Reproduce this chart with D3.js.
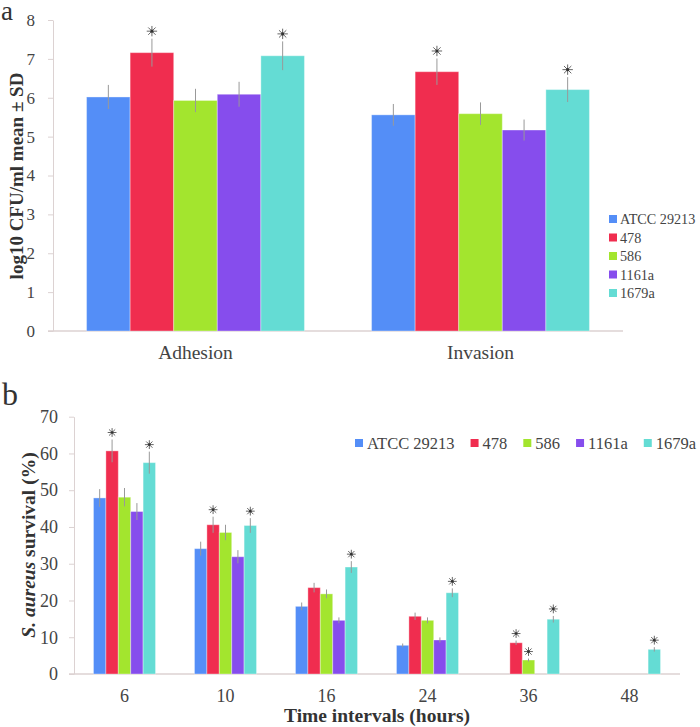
<!DOCTYPE html>
<html><head><meta charset="utf-8">
<script src="https://cdn.jsdelivr.net/npm/d3@7"></script>
<style>
html,body{margin:0;padding:0;background:#fff;}
svg{display:block;font-family:"Liberation Serif","Times New Roman",serif;}
</style></head>
<body>
<svg id="c" width="700" height="727"></svg>
<script>
// ---------- data ----------
const strains = ["ATCC 29213","478","586","1161a","1679a"];
const colors = ["#548ef7","#f02d4f","#a3e52e","#864ded","#64dcd4"];

const groupsA = ["Adhesion","Invasion"];
const adhesionMean = [6.02,7.16,5.93,6.09,7.08];
const adhesionSD   = [0.31,0.36,0.30,0.32,0.37];
const adhesionSig  = [0,1,0,0,1];
const invasionMean = [5.56,6.67,5.59,5.17,6.21];
const invasionSD   = [0.28,0.34,0.29,0.27,0.32];
const invasionSig  = [0,1,0,0,1];
const yTicksA = [0,1,2,3,4,5,6,7,8];

const times = ["6","10","16","24","36","48"];
const survATCC  = [47.9,34.1,18.4,7.8,null,null];
const surv478   = [60.7,40.6,23.5,15.7,8.5,null];
const surv586   = [48.1,38.5,21.8,14.6,3.8,null];
const surv1161a = [44.2,31.9,14.6,9.25,null,null];
const surv1679a = [57.5,40.4,29.1,22.1,14.9,6.7];
const sdATCC  = [2.4,1.9,1.05,0.5,null,null];
const sd478   = [3.1,2.2,1.3,1.0,0.6,null];
const sd586   = [2.5,2.1,1.2,0.8,0.4,null];
const sd1161a = [2.3,1.8,0.8,0.7,null,null];
const sd1679a = [3.0,2.0,1.6,1.2,0.9,0.6];
const sigATCC  = [0,0,0,0,0,0];
const sig478   = [1,1,0,0,1,0];
const sig586   = [0,0,0,0,1,0];
const sig1161a = [0,0,0,0,0,0];
const sig1679a = [1,1,1,1,1,1];
const yTicksB = [0,10,20,30,40,50,60,70];

// ---------- helpers ----------
const svg = d3.select("#c");
const axisColor = "#dcd2d2";
const textColor = "#444";
const serif = "Liberation Serif";

function asterisk(g, cx, cy, r){
  const p = d3.path();
  for (let k=0;k<4;k++){
    const a = k*Math.PI/4;
    p.moveTo(cx - r*Math.cos(a), cy - r*Math.sin(a));
    p.lineTo(cx + r*Math.cos(a), cy + r*Math.sin(a));
  }
  g.append("path").attr("d", p.toString()).attr("stroke","#666").attr("stroke-width",1).attr("fill","none");
  g.append("circle").attr("cx",cx).attr("cy",cy).attr("r",r*0.3).attr("fill","#333");
}

// ---------- chart a ----------
{
  const left=53, right=623, top=20, bottom=331;
  const y = d3.scaleLinear().domain([0,8]).range([bottom, top]);
  const x0 = d3.scaleBand().domain(groupsA).range([left,right]).padding(0);
  const x1 = d3.scaleBand().domain(strains).range([0,x0.bandwidth()]).paddingInner(0).paddingOuter(0.77);
  const rows = [
    {g:"Adhesion", m:adhesionMean, s:adhesionSD, sig:adhesionSig},
    {g:"Invasion", m:invasionMean, s:invasionSD, sig:invasionSig}
  ];
  const g = svg.append("g");
  const ya = g.append("g").attr("transform",`translate(${left},0)`)
    .call(d3.axisLeft(y).tickValues(yTicksA).tickSize(5).tickSizeOuter(0).tickPadding(13));
  ya.attr("font-family", serif);
  ya.select(".domain").attr("stroke",axisColor);
  ya.selectAll(".tick line").attr("stroke",axisColor);
  ya.selectAll(".tick text").attr("fill",textColor).style("font-size","17px").style("font-family",serif);
  g.append("line").attr("x1",left-5).attr("x2",right).attr("y1",bottom).attr("y2",bottom).attr("stroke",axisColor).attr("stroke-width",1.5);

  rows.forEach(r=>{
    const gg = g.append("g").attr("transform",`translate(${x0(r.g)},0)`);
    strains.forEach((st,i)=>{
      gg.append("rect").attr("x",x1(st)).attr("width",x1.bandwidth())
        .attr("y",y(r.m[i])).attr("height",y(0)-y(r.m[i]))
        .attr("fill",colors[i]).attr("stroke","rgba(255,255,255,0.35)").attr("stroke-width",1);
      const cx = x1(st)+x1.bandwidth()/2;
      gg.append("line").attr("x1",cx).attr("x2",cx)
        .attr("y1",y(r.m[i]+r.s[i])).attr("y2",y(r.m[i]-r.s[i]))
        .attr("stroke","#999").attr("stroke-width",1);
      if (r.sig[i]) asterisk(gg, cx, y(r.m[i]+r.s[i])-7.5, 5.2);
    });
    g.append("text").attr("x",x0(r.g)+x0.bandwidth()/2).attr("y",359)
      .attr("text-anchor","middle").attr("fill",textColor).style("font-size","19.5px").text(r.g);
  });

  g.append("text").attr("transform",`translate(23,176) rotate(-90)`).attr("text-anchor","middle")
    .attr("fill","#333").style("font-size","19px").style("font-weight","bold").text("log10 CFU/ml mean ± SD");
  g.append("text").attr("x",1).attr("y",20).attr("fill","#333").style("font-size","27px").text("a");

  const lg = g.append("g");
  strains.forEach((st,i)=>{
    const cy = 219 + i*18.5;
    lg.append("rect").attr("x",609).attr("y",cy-4).attr("width",8).attr("height",8).attr("fill",colors[i]);
    lg.append("text").attr("x",620).attr("y",cy+5).attr("fill",textColor).style("font-size","14.2px").text(st);
  });
}

// ---------- chart b ----------
{
  const left=74, right=680, top=416.7, bottom=674;
  const y = d3.scaleLinear().domain([0,70]).range([bottom, top]);
  const x0 = d3.scaleBand().domain(times).range([left,right]).padding(0);
  const x1 = d3.scaleBand().domain(strains).range([0,x0.bandwidth()]).paddingInner(0).paddingOuter(1.57);
  const series = [
    {v:survATCC, s:sdATCC, sig:sigATCC},
    {v:surv478, s:sd478, sig:sig478},
    {v:surv586, s:sd586, sig:sig586},
    {v:surv1161a, s:sd1161a, sig:sig1161a},
    {v:surv1679a, s:sd1679a, sig:sig1679a}
  ];
  const g = svg.append("g");
  const ya = g.append("g").attr("transform",`translate(${left},0)`)
    .call(d3.axisLeft(y).tickValues(yTicksB).tickSize(5).tickSizeOuter(0).tickPadding(11));
  ya.attr("font-family", serif);
  ya.select(".domain").attr("stroke",axisColor);
  ya.selectAll(".tick line").attr("stroke",axisColor);
  ya.selectAll(".tick text").attr("fill",textColor).style("font-size","18px").style("font-family",serif);
  g.append("line").attr("x1",left-5).attr("x2",right).attr("y1",bottom).attr("y2",bottom).attr("stroke",axisColor).attr("stroke-width",1.5);

  times.forEach((t,j)=>{
    const gg = g.append("g").attr("transform",`translate(${x0(t)},0)`);
    series.forEach((se,i)=>{
      const v = se.v[j];
      if (v==null) return;
      const st = strains[i];
      gg.append("rect").attr("x",x1(st)).attr("width",x1.bandwidth())
        .attr("y",y(v)).attr("height",y(0)-y(v))
        .attr("fill",colors[i]).attr("stroke","rgba(255,255,255,0.35)").attr("stroke-width",1);
      const cx = x1(st)+x1.bandwidth()/2;
      const sd = se.s[j]||0;
      gg.append("line").attr("x1",cx).attr("x2",cx)
        .attr("y1",y(v+sd)).attr("y2",y(v-sd))
        .attr("stroke","#999").attr("stroke-width",1);
      if (se.sig[j]) asterisk(gg, cx, y(v+sd)-7, 4.4);
    });
    g.append("text").attr("x",x0(t)+x0.bandwidth()/2).attr("y",702)
      .attr("text-anchor","middle").attr("fill",textColor).style("font-size","18px").text(t);
  });

  g.append("text").attr("x",(left+right)/2).attr("y",722).attr("text-anchor","middle")
    .attr("fill","#333").style("font-size","19.5px").style("font-weight","bold").text("Time intervals (hours)");

  const yl = g.append("text").attr("transform",`translate(35,545) rotate(-90)`).attr("text-anchor","middle")
    .attr("fill","#333").style("font-size","19.5px").style("font-weight","bold");
  yl.append("tspan").style("font-style","italic").text("S. aureus");
  yl.append("tspan").text(" survival (%)");

  g.append("text").attr("x",2).attr("y",405).attr("fill","#333").style("font-size","32px").text("b");

  const lg = g.append("g");
  let lx = 355;
  strains.forEach((st,i)=>{
    const cy = 443;
    lg.append("rect").attr("x",lx).attr("y",cy-4).attr("width",8).attr("height",8).attr("fill",colors[i]);
    const tx = lg.append("text").attr("x",lx+12).attr("y",cy+6).attr("fill",textColor).style("font-size","16.5px").text(st);
    lx = lx + 12 + tx.node().getComputedTextLength() + 16;
  });
}
</script>
</body></html>
